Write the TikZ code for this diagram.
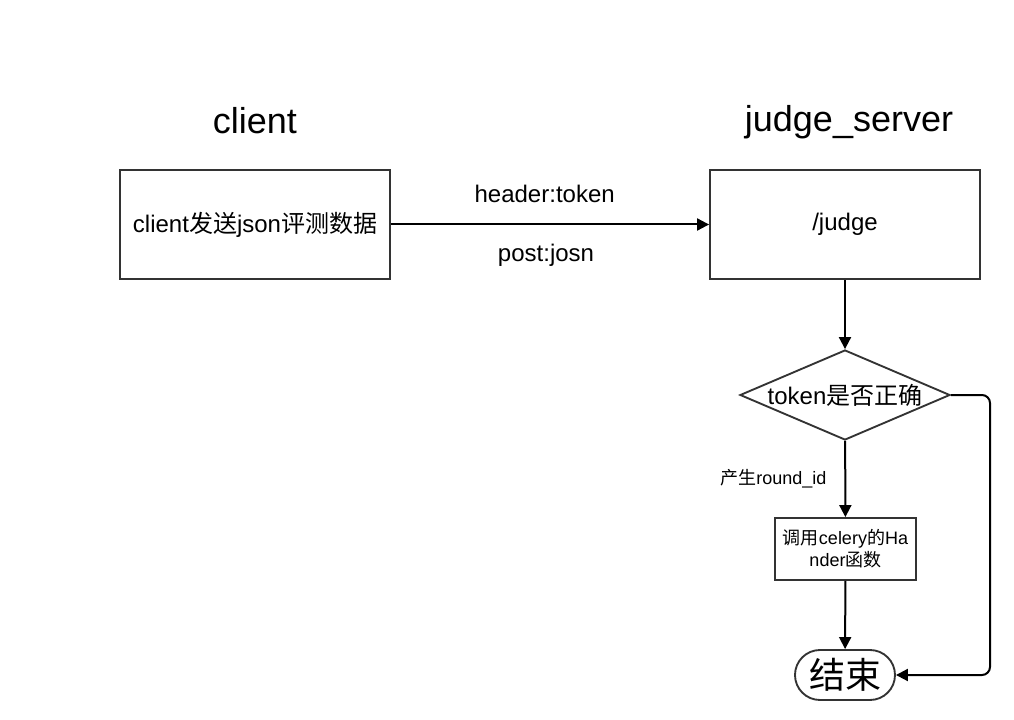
\documentclass[tikz,border=0pt]{standalone}
\usepackage{fontspec}
\setmainfont{Liberation Sans}
\newfontfamily\cjk{Noto Sans CJK SC}
\newcommand{\zh}[1]{{\cjk #1}}
\usetikzlibrary{arrows.meta,positioning,shapes.geometric,shapes.misc}
\definecolor{edgegray}{HTML}{333333}
\tikzset{box/.style={draw=edgegray, line width=1.4pt, rectangle, minimum width=202.5pt, minimum height=82pt, inner sep=2pt, font=\fontsize{18}{21}\selectfont},
  title/.style={font=\fontsize{27}{32}\selectfont},
  decision/.style={draw=edgegray, line width=1.4pt, diamond, aspect=2.33, minimum width=157.5pt, minimum height=67.5pt, inner sep=0pt, font=\fontsize{18}{21}\selectfont},
  smallbox/.style={draw=edgegray, line width=1.4pt, rectangle, minimum width=105.75pt, minimum height=46.5pt, inner sep=1pt, align=center, font=\fontsize{13.5}{16.5}\selectfont},
  stop/.style={draw=edgegray, line width=1.4pt, rounded rectangle, minimum width=75pt, minimum height=37.5pt, inner sep=0pt, font=\fontsize{27}{32}\selectfont},
  lbl/.style={font=\fontsize{18}{21}\selectfont},
  small/.style={font=\fontsize{13.5}{16.5}\selectfont},
  flow/.style={-{Triangle[length=9pt,width=9pt]}, line width=1.5pt}}

\begin{document}
\begin{tikzpicture}[x=0.75pt,y=-0.75pt]
    \useasboundingbox (0,0) rectangle (1014,720);
    % left side
    \node[box] (client) at (255,224.5) {client\zh{发送}json\zh{评测数据}};
    \node[title] (clientT) at (255,121) {client};
    % server side
    \node[box] (judge) at (845,224.5) {/judge};
    \node[title] (judgeT) at (849,122) {judge\_server};
    \node[decision] (check) at (845,395) {token\zh{是否正确}};
    \node[smallbox] (hander) at (845.5,549) {\zh{调用}celery\zh{的}Ha\\nder\zh{函数}};
    \node[stop] (done) at (845,675) {\zh{结束}};
    \coordinate (turn) at (990,395);
    % connectors
    \draw[flow] (client) -- node[lbl,above=12pt,xshift=-4pt] {header:token} node[lbl,below=11pt,xshift=-3pt] {post:josn} (judge);
    \draw[flow] (judge) -- (check);
    \draw[flow] (check) -- node[small,left=10pt] {\zh{产生}round\_id} (hander);
    \draw[flow] (hander) -- (done);
    \draw[flow,rounded corners=6pt] (check.east) -- (turn) |- (done.east);
\end{tikzpicture}
\end{document}
